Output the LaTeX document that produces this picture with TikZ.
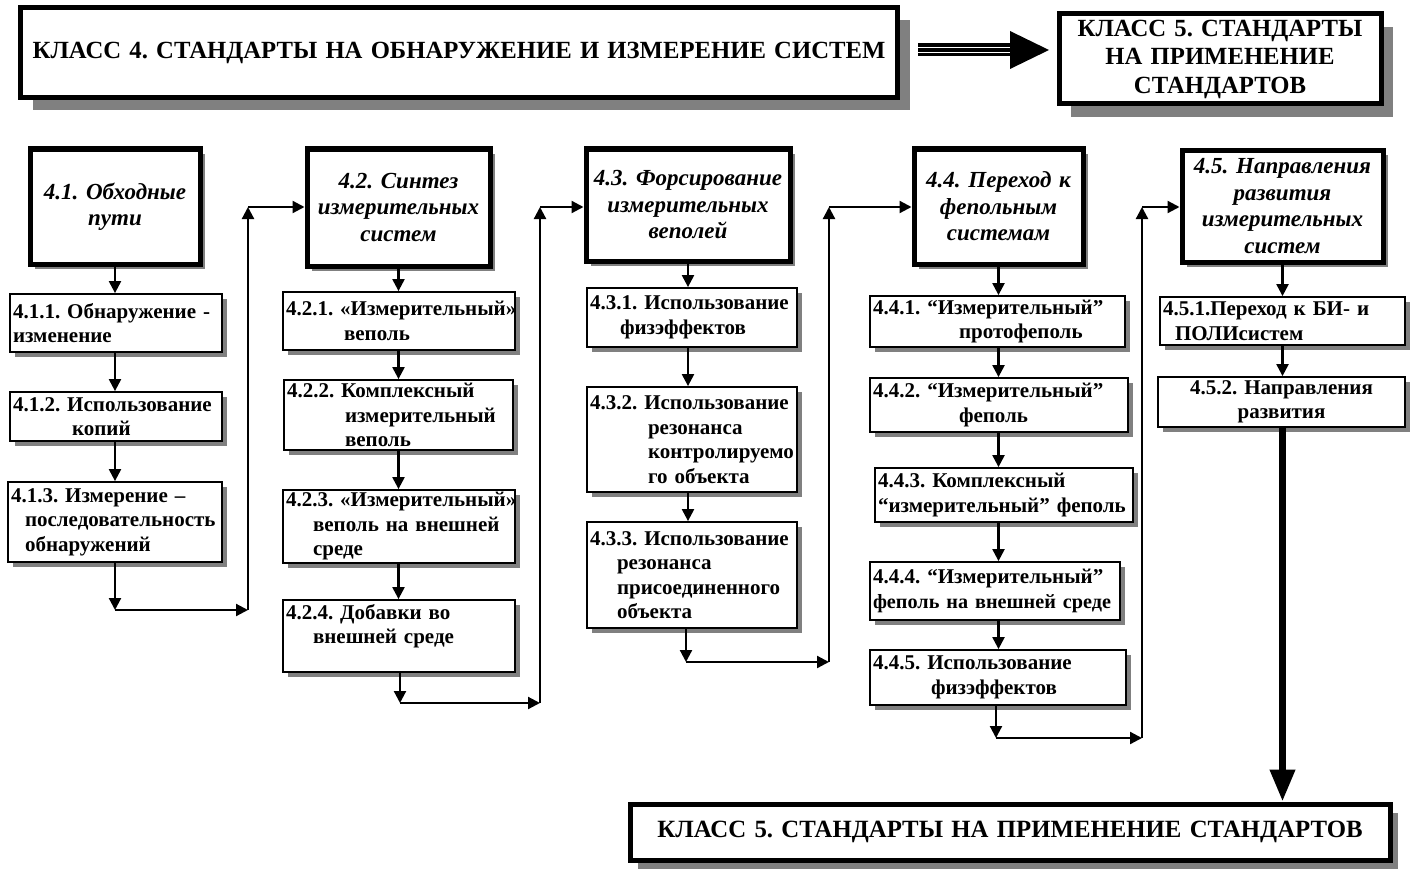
\documentclass[tikz,border=0pt]{standalone}
\usepackage{fontspec}
\setmainfont{Liberation Serif}
\usetikzlibrary{arrows.meta,shadows}
\frenchspacing
\newcommand\Bx[7][sbox]{%
  \pgfmathsetmacro\BxW{#5-#3}%
  \pgfmathsetmacro\BxH{#6-#4}%
  \pgfmathsetmacro\BxX{(#3+#5)/2}%
  \pgfmathsetmacro\BxY{(#4+#6)/2}%
  \pgfmathsetmacro\BxT{#5-#3-6}%
  \node[#1, minimum width=\BxW pt, minimum height=\BxH pt, text width=\BxT pt] (#2) at (\BxX,\BxY) {#7};}
\begin{document}
\begin{tikzpicture}[x=1pt,y=-1pt,
  sbox/.style={draw, line width=1.8pt, fill=white, inner sep=2pt, align=left,
    font=\bfseries\fontsize{21}{24.5}\selectfont,
    drop shadow={shadow xshift=4.5pt,shadow yshift=-4.5pt,fill=black!50,opacity=1}},
  hbox/.style={draw, line width=5pt, fill=white, inner sep=2pt, align=center,
    font=\bfseries\itshape\fontsize{23}{26.5}\selectfont,
    drop shadow={shadow xshift=5pt,shadow yshift=-5pt,fill=black!50,opacity=1}},
  kbox/.style={draw, line width=5pt, fill=white, inner sep=2pt, align=center,
    font=\bfseries\fontsize{24.7}{28.5}\selectfont,
    drop shadow={shadow xshift=12pt,shadow yshift=-13pt,fill=black!50,opacity=1}},
  bbox/.style={draw, line width=5pt, fill=white, inner sep=2pt, align=center,
    font=\bfseries\fontsize{24.8}{28}\selectfont,
    drop shadow={shadow xshift=8pt,shadow yshift=-9pt,fill=black!50,opacity=1}},
  con/.style={line width=2.2pt, -{Triangle[length=12pt,width=12pt]}},
  thick con/.style={line width=7pt, -{Triangle[length=32pt,width=24pt]}}
]
\useasboundingbox (0,0) rectangle (1413,872);
\fill[white] (0,0) rectangle (1413,872);

% top
\Bx[kbox]{k4}{20.5}{7.5}{897.5}{97.5}{КЛАСС 4. СТАНДАРТЫ НА ОБНАРУЖЕНИЕ И ИЗМЕРЕНИЕ СИСТЕМ}
\Bx[kbox]{k5t}{1059}{14}{1381}{104}{КЛАСС 5. СТАНДАРТЫ\\НА ПРИМЕНЕНИЕ\\СТАНДАРТОВ}
\coordinate (ar1) at (918,50);
\coordinate (ar2) at (1049,50);
\fill (ar1) ++(0,-6.5) rectangle (1012,56.5);
\draw[white,line width=1pt] (ar1) ++(0,-2.2) -- (1012,47.8);
\draw[white,line width=1pt] (ar1) ++(0,2.2) -- (1012,52.2);
\fill (1010,31) -- (ar2) -- (1010,69) -- cycle;

% column 1
\Bx[hbox]{b41}{30}{149}{200}{264}{4.1. Обходные\\пути}
\Bx{b411}{10}{294}{222}{352}{4.1.1.~Обнаружение -\\изменение}
\Bx{b412}{10}{392}{222}{441}{4.1.2.~Использование\\\hspace*{59pt}копий}
\Bx{b413}{8}{482}{222}{562}{4.1.3.~Измерение –\\\hspace*{14pt}последовательность\\\hspace*{14pt}обнаружений}

% column 2
\Bx[hbox]{b42}{307}{149}{490}{266}{4.2. Синтез\\измерительных\\систем}
\Bx{b421}{283}{292}{515}{350}{4.2.1.~«Измерительный»\\\hspace*{58pt}веполь}
\Bx{b422}{284}{380}{513}{450}{4.2.2.~Комплексный\\\hspace*{58pt}измерительный\\\hspace*{58pt}веполь}
\Bx{b423}{283}{490}{515}{563}{4.2.3.~«Измерительный»\\\hspace*{27pt}\mbox{веполь на внешней}\\\hspace*{27pt}среде}
\Bx{b424}{283}{600}{515}{672}{4.2.4.~Добавки во\\\hspace*{27pt}\mbox{внешней среде}\\\mbox{}}

% column 3
\Bx[hbox]{b43}{586}{149}{790}{261}{4.3. Форсирование\\измерительных\\веполей}
\Bx{b431}{587}{288}{797}{347}{4.3.1.~Использование\\\hspace*{30pt}физэффектов}
\Bx{b432}{587}{387}{797}{492}{4.3.2.~Использование\\\hspace*{58pt}резонанса\\\hspace*{58pt}контролируемо\\\hspace*{58pt}\mbox{го объекта}}
\Bx{b433}{587}{522}{797}{628}{4.3.3.~Использование\\\hspace*{27pt}резонанса\\\hspace*{27pt}присоединенного\\\hspace*{27pt}объекта}

% column 4
\Bx[hbox]{b44}{914}{149}{1083}{264}{4.4. Переход к\\фепольным\\системам}
\Bx{b441}{870}{296}{1125}{347}{4.4.1.~“Измерительный”\\\hspace*{86pt}протофеполь}
\Bx{b442}{870}{378}{1128}{432}{4.4.2.~“Измерительный”\\\hspace*{86pt}феполь}
\Bx{b443}{875}{468}{1133}{522}{4.4.3.~Комплексный\\\mbox{“измерительный” феполь}}
\Bx{b444}{870}{562}{1120}{620}{4.4.4.~“Измерительный”\\\mbox{\fontsize{20.2}{24.5}\selectfont феполь на внешней среде}}
\Bx{b445}{870}{650}{1126}{705}{4.4.5.~Использование\\\hspace*{58pt}физэффектов}

% column 5
\Bx[hbox]{b45}{1182}{150}{1383}{262}{4.5. Направления\\развития\\измерительных\\систем}
\Bx{b451}{1160}{297}{1405}{345}{\mbox{4.5.1.Переход к БИ- и}\\\hspace*{12pt}ПОЛИсистем}
\Bx[sbox,align=center]{b452}{1158}{377}{1405}{427}{4.5.2. Направления\\развития}

% bottom
\Bx[bbox]{bot}{630}{804}{1390}{860}{КЛАСС 5. СТАНДАРТЫ НА ПРИМЕНЕНИЕ СТАНДАРТОВ}

% vertical connectors
\draw[con] (b41.south) -- (b41.south |- b411.north);
\draw[con] (b411.south -| b41) -- (b412.north -| b41);
\draw[con] (b412.south -| b41) -- (b413.north -| b41);

\draw[con] (b42.south) -- (b42.south |- b421.north);
\draw[con] (b421.south -| b42) -- (b422.north -| b42);
\draw[con] (b422.south -| b42) -- (b423.north -| b42);
\draw[con] (b423.south -| b42) -- (b424.north -| b42);

\draw[con] (b43.south) -- (b43.south |- b431.north);
\draw[con] (b431.south -| b43) -- (b432.north -| b43);
\draw[con] (b432.south -| b43) -- (b433.north -| b43);

\draw[con] (b44.south) -- (b44.south |- b441.north);
\draw[con] (b441.south -| b44) -- (b442.north -| b44);
\draw[con] (b442.south -| b44) -- (b443.north -| b44);
\draw[con] (b443.south -| b44) -- (b444.north -| b44);
\draw[con] (b444.south -| b44) -- (b445.north -| b44);

\draw[con] (b45.south) -- (b45.south |- b451.north);
\draw[con] (b451.south -| b45) -- (b452.north -| b45);
\draw[thick con] (b452.south -| b45) -- (bot.north -| b45);

% loop connectors
\coordinate (c1a) at (115,610); \coordinate (c1b) at (248,610); \coordinate (c1c) at (248,207);
\draw[con] (b413.south -| c1a) -- (c1a);
\draw[con] (c1a) -- (c1b);
\draw[con] (c1b) -- (c1c);
\draw[con] (c1c) -- (c1c -| b42.west);

\coordinate (c2a) at (400,703); \coordinate (c2b) at (540,703); \coordinate (c2c) at (540,207);
\draw[con] (b424.south -| c2a) -- (c2a);
\draw[con] (c2a) -- (c2b);
\draw[con] (c2b) -- (c2c);
\draw[con] (c2c) -- (c2c -| b43.west);

\coordinate (c3a) at (686,662); \coordinate (c3b) at (829,662); \coordinate (c3c) at (829,207);
\draw[con] (b433.south -| c3a) -- (c3a);
\draw[con] (c3a) -- (c3b);
\draw[con] (c3b) -- (c3c);
\draw[con] (c3c) -- (c3c -| b44.west);

\coordinate (c4a) at (996,738); \coordinate (c4b) at (1142,738); \coordinate (c4c) at (1142,207);
\draw[con] (b445.south -| c4a) -- (c4a);
\draw[con] (c4a) -- (c4b);
\draw[con] (c4b) -- (c4c);
\draw[con] (c4c) -- (c4c -| b45.west);
\end{tikzpicture}
\end{document}
